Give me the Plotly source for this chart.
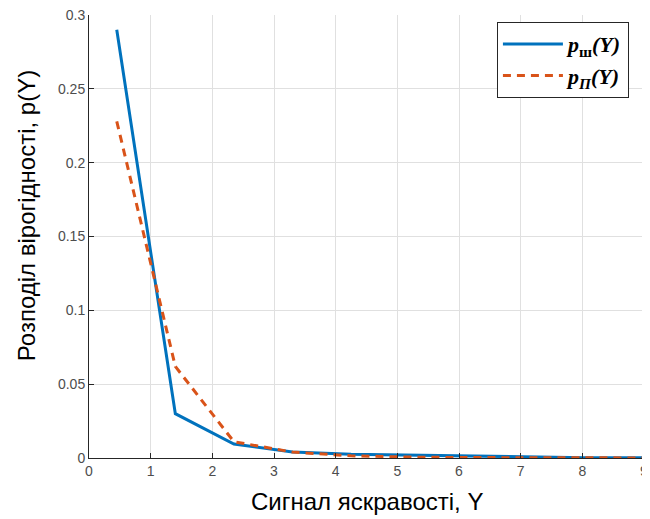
import plotly.graph_objects as go

# Data
y_signal = [0.45, 1.40, 2.35, 3.30, 4.25, 5.20, 6.15, 7.10, 8.05, 9.00]
p_sh = [0.290, 0.030, 0.0095, 0.0040, 0.0025, 0.0018, 0.0012, 0.0006, 0.0002, 0.0001]
p_p = [0.228, 0.062, 0.0110, 0.0040, 0.0015, 0.0006, 0.0003, 0.0002, 0.0001, 0.00005]

x_ticks = [0, 1, 2, 3, 4, 5, 6, 7, 8, 9]
y_ticks = [0, 0.05, 0.1, 0.15, 0.2, 0.25, 0.3]
y_tick_labels = ["0", "0.05", "0.1", "0.15", "0.2", "0.25", "0.3"]

x_title = "Сигнал яскравості, Y"
y_title = "Розподіл вірогідності, p(Y)"

fig = go.Figure()
fig.add_trace(go.Scatter(
    x=y_signal, y=p_sh, mode="lines",
    line=dict(color="#0072BD", width=3),
    name="<b><i>p</i><sub>ш</sub><i>(Y)</i></b>",
))
fig.add_trace(go.Scatter(
    x=y_signal, y=p_p, mode="lines",
    line=dict(color="#D95319", width=3, dash="8px,6px"),
    name="<b><i>p</i><sub><i>П</i></sub><i>(Y)</i></b>",
))

axis_font = dict(family="Liberation Sans, Arial, sans-serif", size=14, color="#4d4d4d")
title_font = dict(family="Liberation Sans, Arial, sans-serif", size=24, color="black")

# page has an 8px body margin, so the figure is sized/offset accordingly
fig.update_layout(
    width=642, height=511,
    margin=dict(l=81, r=6, t=7, b=61, autoexpand=False),
    paper_bgcolor="white", plot_bgcolor="white",
    showlegend=True,
    legend=dict(
        x=0.735, y=0.984, xanchor="left", yanchor="top",
        bgcolor="white", bordercolor="#262626", borderwidth=1,
        font=dict(family="Liberation Serif, Times New Roman, serif", size=22, color="black"),
        itemwidth=60, tracegroupgap=0,
    ),
    xaxis=dict(
        range=[0, 9], tickmode="array", tickvals=x_ticks,
        ticks="inside", ticklen=5, tickcolor="#262626",
        showline=True, linecolor="#262626", linewidth=1,
        showgrid=True, gridcolor="#e0e0e0", gridwidth=1,
        zeroline=False, tickfont=axis_font, automargin=False,
        ticklabeloverflow="allow",
    ),
    yaxis=dict(
        range=[0, 0.3], tickmode="array", tickvals=y_ticks, ticktext=y_tick_labels,
        ticks="inside", ticklen=5, tickcolor="#262626",
        showline=True, linecolor="#262626", linewidth=1,
        showgrid=True, gridcolor="#e0e0e0", gridwidth=1,
        zeroline=False, tickfont=axis_font, automargin=False,
        ticklabeloverflow="allow",
    ),
    annotations=[
        dict(text=x_title, xref="paper", yref="paper", x=0.5, y=-0.0993,
             xanchor="center", yanchor="middle", showarrow=False, font=title_font),
        dict(text=y_title, xref="paper", yref="paper", x=-0.1135, y=0.546,
             xanchor="center", yanchor="middle", textangle=-90, showarrow=False,
             font=title_font),
    ],
)

fig.write_html("out.html")
